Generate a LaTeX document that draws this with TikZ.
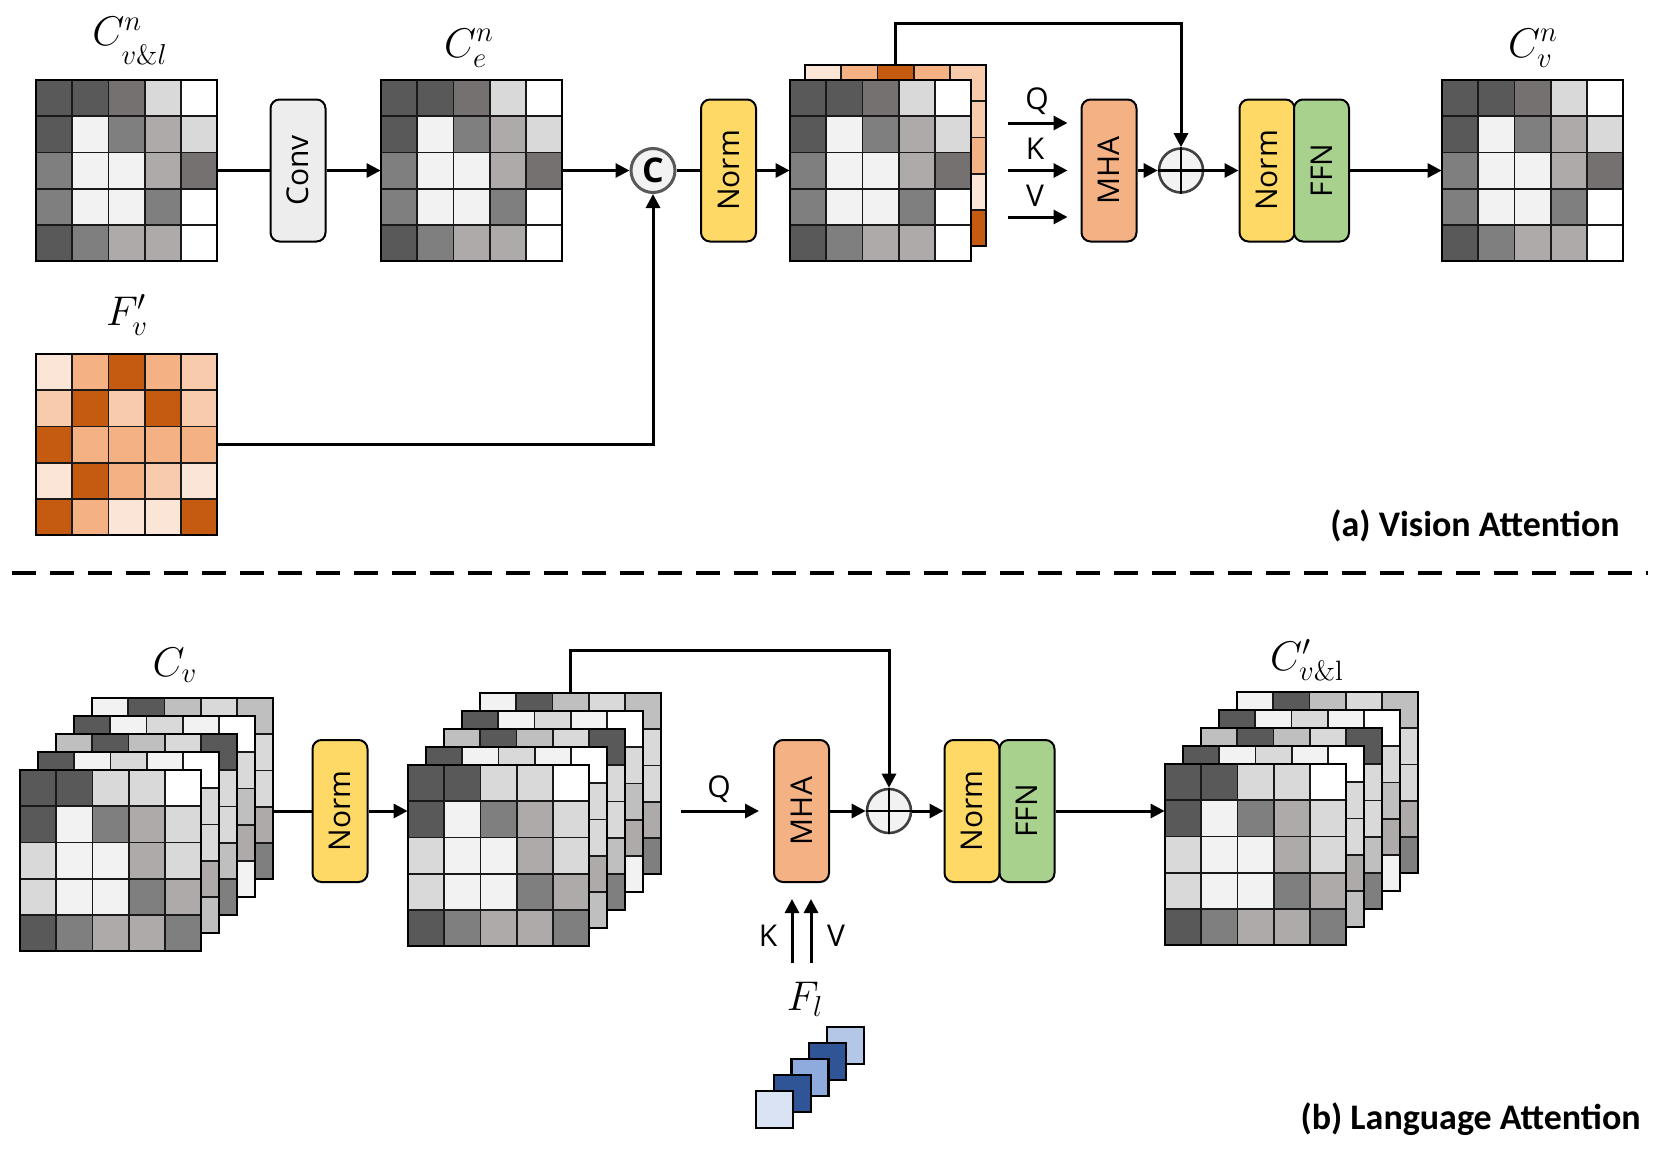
\documentclass[tikz,border=0pt]{standalone}
\usepackage{fontspec}
\newfontfamily\boxfont{Open Sans}
\newfontfamily\capfont{Carlito}
\usetikzlibrary{arrows.meta,fit}
\definecolor{gA}{HTML}{595959}
\definecolor{gB}{HTML}{767171}
\definecolor{gC}{HTML}{7F7F7F}
\definecolor{gD}{HTML}{AEAAAA}
\definecolor{gE}{HTML}{BFBFBF}
\definecolor{gF}{HTML}{D9D9D9}
\definecolor{gG}{HTML}{F2F2F2}
\definecolor{cw}{HTML}{FFFFFF}
\definecolor{oA}{HTML}{FBE5D6}
\definecolor{oB}{HTML}{F8CBAD}
\definecolor{oC}{HTML}{F4B183}
\definecolor{oD}{HTML}{C55A11}
\definecolor{convc}{HTML}{EDEDED}
\definecolor{normc}{HTML}{FFD966}
\definecolor{mhac}{HTML}{F4B183}
\definecolor{ffnc}{HTML}{A9D18E}
\definecolor{bA}{HTML}{DAE3F3}
\definecolor{bB}{HTML}{2F5597}
\definecolor{bC}{HTML}{8FAADC}
\definecolor{bD}{HTML}{B4C7E7}
\def\cs{36.2}
\def\matT{{gA,gA,gB,gF,cw},{gA,gG,gC,gD,gF},{gC,gG,gG,gD,gB},{gC,gG,gG,gC,cw},{gA,gC,gD,gD,cw}}
\def\matO{{oA,oC,oD,oC,oB},{oB,oD,oB,oD,oB},{oD,oC,oC,oC,oC},{oA,oD,oC,oB,oA},{oD,oC,oA,oA,oD}}
\def\matLa{{gA,gA,gF,gF,cw},{gA,gG,gC,gD,gF},{gF,gG,gG,gD,gF},{gF,gG,gG,gC,gD},{gA,gC,gD,gD,gC}}
\def\matLb{{gA,gG,gF,gG,cw},{gF,gF,gF,gF,gF},{gF,gF,gF,gF,gF},{gF,gF,gF,gF,gD},{gF,gF,gF,gF,gE}}
\def\matLc{{gE,gA,gE,gF,gA},{gF,gF,gF,gF,gF},{gF,gF,gF,gF,gF},{gF,gF,gF,gF,gE},{gF,gF,gF,gF,gC}}
\def\matLd{{gA,gG,gF,gG,cw},{gF,gF,gF,gF,gF},{gF,gF,gF,gF,gE},{gF,gF,gF,gF,gD},{gF,gF,gF,gF,gG}}
\def\matLe{{gG,gA,gE,gF,gE},{gF,gF,gF,gF,gF},{gF,gF,gF,gF,gF},{gF,gF,gF,gF,gD},{gF,gF,gF,gF,gC}}
\newcommand\gridmat[4]{%
  \foreach \rw [count=\ri from 0] in #4 {%
    \foreach \cc [count=\ki from 0] in \rw {%
      \filldraw[fill=\cc, cellb] ({#2+\ki*\cs},{#3+\ri*\cs}) rectangle ++(\cs,\cs);
    }%
  }%
  \draw[line width=1.2pt] (#2,#3) rectangle ++({5*\cs},{5*\cs});
  \node[fit={(#2,#3) ({#2+5*\cs},{#3+5*\cs})}, inner sep=0pt] (#1) {};
}
\newcommand\stackmat[3]{%
  \gridmat{#1e}{#2+72}{#3-72}{\matLe}
  \gridmat{#1d}{#2+54}{#3-54}{\matLd}
  \gridmat{#1c}{#2+36}{#3-36}{\matLc}
  \gridmat{#1b}{#2+18}{#3-18}{\matLb}
  \gridmat{#1a}{#2}{#3}{\matLa}
}
\begin{document}
\begin{tikzpicture}[x=0.5pt,y=-0.5pt,
  cellb/.style={line width=0.9pt, draw=black!90},
  ln/.style={line width=1.5pt},
  arr/.style={line width=1.5pt, -{Triangle[length=7pt,width=7pt]}},
  blk/.style={draw=black, line width=1pt, rounded corners=4.5pt, minimum width=27.5pt,
    minimum height=71pt, inner sep=0pt, font=\boxfont\fontsize{15}{18}\selectfont},
  lbl/.style={font=\boxfont\fontsize{15}{18}\selectfont, inner sep=0pt},
  mlbl/.style={font=\fontsize{20}{24}\selectfont, inner sep=0pt},
  opc/.style={circle, draw=black!75, line width=1.3pt, fill=gG, minimum size=22pt, inner sep=0pt},
  captxt/.style={font=\capfont\bfseries\fontsize{18}{22}\selectfont, inner sep=0pt, anchor=east}]
\fill[white] (0,0) rectangle (1660,1162);
\useasboundingbox (0,0) rectangle (1660,1162);

% ---------- (a) Vision Attention ----------
\gridmat{A}{36}{80}{\matT}
\gridmat{B}{381}{80}{\matT}
\gridmat{F}{36}{354}{\matO}
\gridmat{Ob}{805}{65}{\matO}
\gridmat{Of}{790}{80}{\matT}
\gridmat{D}{1442}{80}{\matT}

\node[mlbl] (lA) at (130,46) {$C^{n}_{\vphantom{\big(}v\&l}$};
\node[mlbl] (lB) at (469,48) {$C^{n}_{e}$};
\node[mlbl] (lF) at (127,315) {$F'_{v}$};
\node[mlbl] (lD) at (1533,48) {$C^{n}_{v}$};

\node[blk, fill=convc] (conv) at (298,170.5) {\rotatebox{90}{Conv}};
\node[opc, draw=black!65, line width=1.5pt, font=\boxfont\bfseries\fontsize{17}{20}\selectfont] (cat) at (653,170.5) {C};
\node[blk, fill=normc] (norm1) at (728.5,170.5) {\rotatebox{90}{Norm}};
\node[blk, fill=mhac] (mha1) at (1109,170.5) {\rotatebox{90}{MHA}};
\node[opc] (plus1) at (1181,170.5) {};
\draw[line width=1.3pt] (plus1.north) -- (plus1.south) (plus1.west) -- (plus1.east);
\node[blk, fill=normc] (norm2) at (1267,170.5) {\rotatebox{90}{Norm}};
\node[blk, fill=ffnc] (ffn1) at (1321.5,170.5) {\rotatebox{90}{FFN}};

\draw[ln] (A.east) -- (conv.west);
\draw[arr] (conv.east) -- (B.west);
\draw[arr] (B.east) -- (cat.west);
\draw[arr] (F.east) -| (cat.south);
\draw[ln] (cat.east) -- (norm1.west);
\draw[arr] (norm1.east) -- (Of.west);
\draw[arr] (Ob.north) -- ++(0,-41) -| (plus1.north);

\coordinate (qs) at (1008,123);
\coordinate (ks) at (1008,170.5);
\coordinate (vs) at (1008,217);
\draw[arr] (qs) -- ([xshift=-6.5pt]qs -| mha1.west);
\draw[arr] (ks) -- ([xshift=-6.5pt]ks -| mha1.west);
\draw[arr] (vs) -- ([xshift=-6.5pt]vs -| mha1.west);
\node[lbl] (tq) at (1037,101) {Q};
\node[lbl] (tk) at (1035,149) {K};
\node[lbl] (tv) at (1035,196) {V};

\draw[arr] (mha1.east) -- (plus1.west);
\draw[arr] (plus1.east) -- (norm2.west);
\draw[arr] (ffn1.east) -- (D.west);

\node[captxt] (capa) at (1620,526) {(a) Vision Attention};

\draw[line width=2pt, dash pattern=on 12pt off 7pt] (12,573) -- (1648,573);

% ---------- (b) Language Attention ----------
\stackmat{P}{20}{770}
\stackmat{R}{408}{765}
\stackmat{T}{1165}{764}

\node[mlbl] (lP) at (175,665) {$C_{v}$};
\node[mlbl] (lT) at (1307,660) {$C'_{v\&\mathrm{l}}$};

\node[blk, fill=normc] (norm3) at (340,811) {\rotatebox{90}{Norm}};
\node[blk, fill=mhac] (mha2) at (801.5,811) {\rotatebox{90}{MHA}};
\node[opc] (plus2) at (889,811) {};
\draw[line width=1.3pt] (plus2.north) -- (plus2.south) (plus2.west) -- (plus2.east);
\node[blk, fill=normc] (norm4) at (972,811) {\rotatebox{90}{Norm}};
\node[blk, fill=ffnc] (ffn2) at (1027,811) {\rotatebox{90}{FFN}};

\draw[ln] (norm3.west -| Pe.east) -- (norm3.west);
\draw[arr] (norm3.east) -- (norm3.east -| Ra.west);
\draw[arr] (Re.north) -- ++(0,-42) -| (plus2.north);
\coordinate (q2) at (681,811);
\draw[arr] (q2) -- ([xshift=-7pt]q2 -| mha2.west);
\node[lbl] (tq2) at (719,789) {Q};
\draw[arr] (mha2.east) -- (plus2.west);
\draw[arr] (plus2.east) -- (norm4.west);
\draw[arr] (ffn2.east) -- (ffn2.east -| Ta.west);

\coordinate (k2) at (792,963);
\coordinate (v2) at (811,963);
\draw[arr] (k2) -- ([yshift=-8pt]k2 |- mha2.south);
\draw[arr] (v2) -- ([yshift=-8pt]v2 |- mha2.south);
\node[lbl] (tk2) at (768,936) {K};
\node[lbl] (tv2) at (836,936) {V};

\node[mlbl] (lL) at (805,999) {$F_{l}$};
\foreach \i/\c in {4/bD,3/bB,2/bC,1/bB,0/bA}{
  \filldraw[fill=\c, draw=black, line width=1.2pt] ({756+\i*17.75},{1091-\i*16}) rectangle ++(37,37);
}

\node[captxt] (capb) at (1641,1119) {(b) Language Attention};
\end{tikzpicture}
\end{document}
